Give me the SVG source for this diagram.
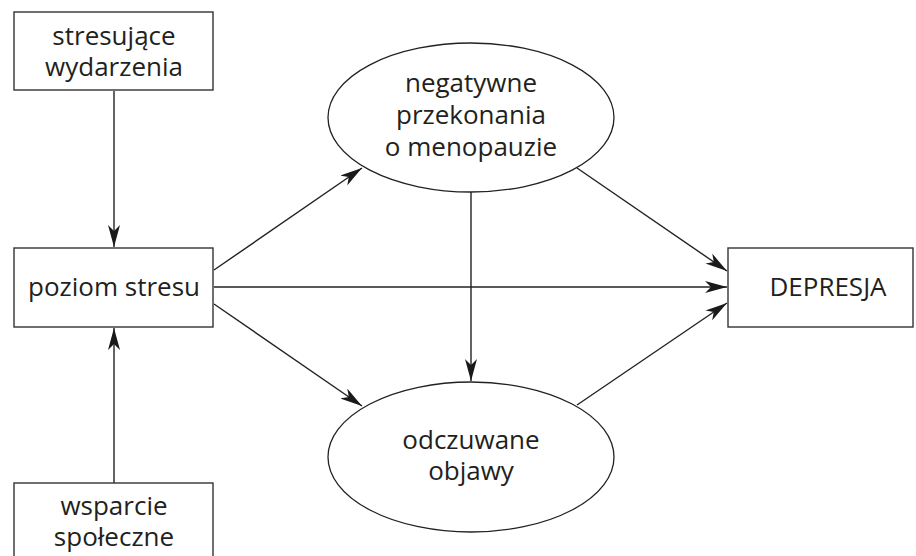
<svg xmlns="http://www.w3.org/2000/svg" width="916" height="556" viewBox="0 0 916 556">
<style>
.box{fill:#fff;stroke:#333;stroke-width:1.4}
.ell{fill:#fff;stroke:#222;stroke-width:1.3}
.t{font-family:"Open Sans","Noto Sans",sans-serif;font-size:26px;fill:#231f20;text-anchor:middle}
.c{stroke:#222;stroke-width:1.4;fill:none;marker-end:url(#ah)}
</style>
<defs>
<marker id="ah" viewBox="0 0 22 12" refX="22" refY="6" markerWidth="22" markerHeight="12" markerUnits="userSpaceOnUse" orient="auto">
<path d="M0,0 L22,6 L0,12 L6,6 Z" fill="#1a1a1a"/>
</marker>
</defs>
<rect width="916" height="556" fill="#fff"/>
<g id="connectors">
<line class="c" x1="114" y1="91" x2="114" y2="247"/>
<line class="c" x1="114" y1="483" x2="114" y2="328"/>
<line class="c" x1="214" y1="270" x2="362" y2="168"/>
<line class="c" x1="214" y1="287" x2="727" y2="287"/>
<line class="c" x1="214" y1="304" x2="362" y2="406"/>
<line class="c" x1="471" y1="192" x2="471" y2="381"/>
<line class="c" x1="577" y1="168" x2="727" y2="271"/>
<line class="c" x1="577" y1="405" x2="727" y2="303"/>
</g>
<g id="stresujace">
<rect class="box" x="14" y="12" width="199" height="78"/>
<text class="t" x="114" y="45">stresujące</text>
<text class="t" x="114" y="76">wydarzenia</text>
</g>
<g id="poziom">
<rect class="box" x="14" y="248" width="199" height="79"/>
<text class="t" x="114" y="296">poziom stresu</text>
</g>
<g id="wsparcie">
<rect class="box" x="14" y="483" width="199" height="90"/>
<text class="t" x="114" y="515">wsparcie</text>
<text class="t" x="114" y="546">społeczne</text>
</g>
<g id="negatywne">
<ellipse class="ell" cx="471" cy="117.5" rx="143" ry="74.5"/>
<text class="t" x="471" y="92">negatywne</text>
<text class="t" x="471" y="124">przekonania</text>
<text class="t" x="471" y="156">o menopauzie</text>
</g>
<g id="odczuwane">
<ellipse class="ell" cx="471" cy="457" rx="143" ry="75"/>
<text class="t" x="471" y="449">odczuwane</text>
<text class="t" x="471" y="480">objawy</text>
</g>
<g id="depresja">
<rect class="box" x="728" y="248" width="185" height="79"/>
<text class="t" x="828" y="296">DEPRESJA</text>
</g>
</svg>
